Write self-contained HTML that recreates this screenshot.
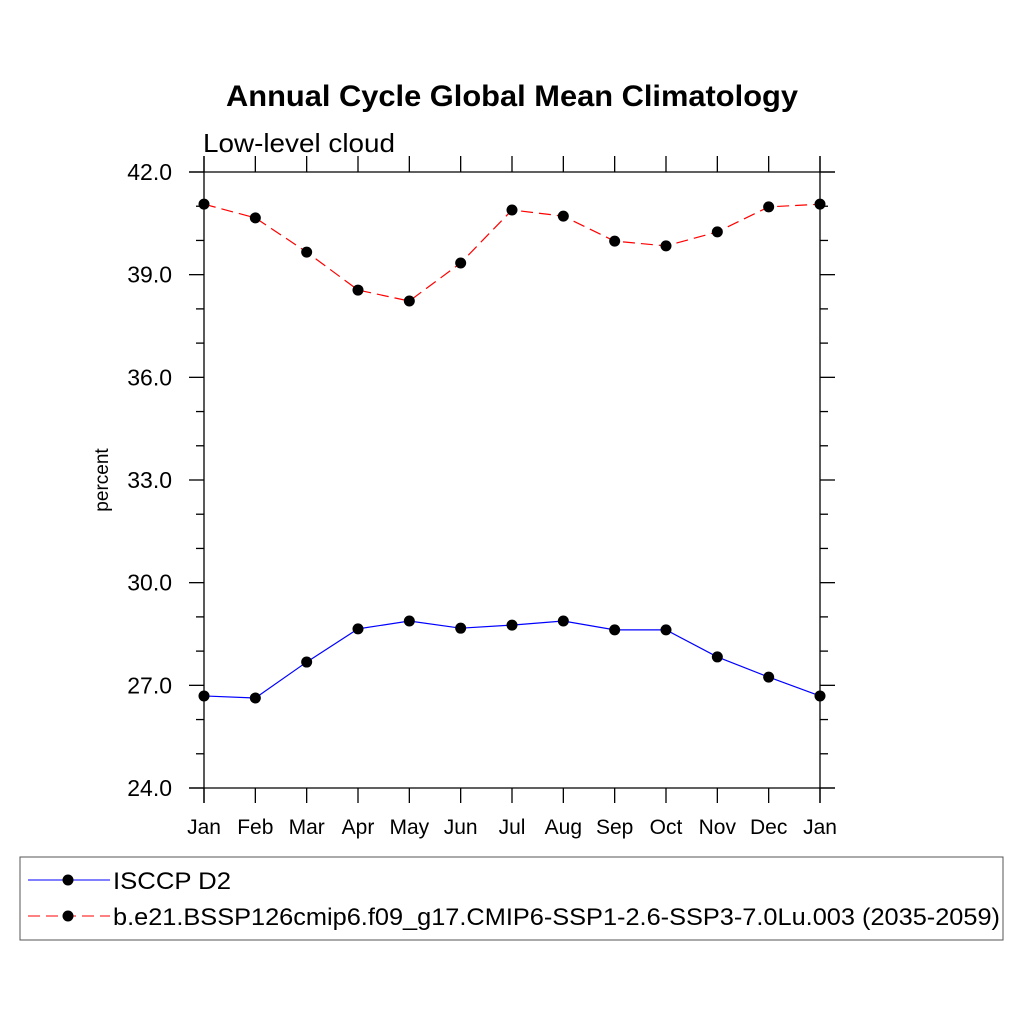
<!DOCTYPE html>
<html><head><meta charset="utf-8"><style>
body{margin:0;background:#fff;width:1024px;height:1024px;overflow:hidden}
svg text{font-family:"Liberation Sans",sans-serif}
</style></head><body>
<svg id="chart" width="1024" height="1024">
<text x="226" y="106" textLength="572" lengthAdjust="spacingAndGlyphs" font-size="30" font-weight="bold">Annual Cycle Global Mean Climatology</text>
<text x="203" y="152" textLength="192" lengthAdjust="spacingAndGlyphs" font-size="26">Low-level cloud</text>
<text transform="translate(108,480) rotate(-90)" text-anchor="middle" font-size="19">percent</text>
<g id="axes"></g>
<g id="series"></g>
<rect x="20" y="857" width="983" height="83" fill="none" stroke="#555" stroke-width="1"/>
<g>
<line x1="28" y1="880" x2="110" y2="880" stroke="#00f" stroke-width="1"/>
<circle cx="68" cy="880" r="5.5" fill="#000"/>
<text x="113" y="889" textLength="118" lengthAdjust="spacingAndGlyphs" font-size="24">ISCCP D2</text></g>
<g>
<line x1="28" y1="916" x2="110" y2="916" stroke="#f00" stroke-width="1" stroke-dasharray="12,6"/>
<circle cx="68" cy="916" r="5.5" fill="#000"/>
<text x="113" y="925" textLength="887" lengthAdjust="spacingAndGlyphs" font-size="24">b.e21.BSSP126cmip6.f09_g17.CMIP6-SSP1-2.6-SSP3-7.0Lu.003 (2035-2059)</text></g>
</svg>
<script>
const months=["Jan","Feb","Mar","Apr","May","Jun","Jul","Aug","Sep","Oct","Nov","Dec","Jan"];
const yTicks=[24,27,30,33,36,39,42];
const isccp=[26.69,26.63,27.68,28.65,28.88,28.67,28.76,28.88,28.62,28.62,27.83,27.24,26.69];
const model=[41.06,40.66,39.66,38.55,38.23,39.34,40.89,40.71,39.98,39.84,40.25,40.98,41.06];
const X0=204,X1=820,Y0=788,Y1=172,ymin=24,ymax=42;
const xs=i=>X0+(X1-X0)*i/(months.length-1);
const ys=v=>Y0-(Y0-Y1)*(v-ymin)/(ymax-ymin);
const NS="http://www.w3.org/2000/svg";
const ax=document.getElementById('axes'),sr=document.getElementById('series');
function mk(t,a,p){const e=document.createElementNS(NS,t);for(const k in a)e.setAttribute(k,a[k]);p.appendChild(e);return e;}
function ln(x1,y1,x2,y2,w){return mk('line',{x1,y1,x2,y2,stroke:'#000','stroke-width':w||1.3},ax);}
ln(X0,156,X0,803);ln(X1,156,X1,803);ln(189,Y1,835,Y1);ln(189,Y0,835,Y0);
months.forEach((m,i)=>{const x=xs(i);ln(x,Y0,x,803);ln(x,Y1,x,156);
const t=mk('text',{x:x,y:834,'text-anchor':'middle','font-size':21},ax);t.textContent=m;

});
for(let v=ymin;v<=ymax;v++){const y=ys(v),maj=(v-ymin)%3===0;ln(X0,y,X0-(maj?15:8),y);ln(X1,y,X1+(maj?15:8),y);}
yTicks.forEach(v=>{const t=mk('text',{x:172,y:ys(v)+8,'text-anchor':'end','font-size':23},ax);t.textContent=v.toFixed(1);

});
function series(d,col,dash,name){const p=mk('polyline',{points:d.map((v,i)=>xs(i)+','+ys(v)).join(' '),fill:'none',stroke:col,'stroke-width':1.2,'stroke-dasharray':dash},sr);


d.forEach((v,i)=>{const c=mk('circle',{cx:xs(i),cy:ys(v),r:5.5,fill:'#000'},sr);

});}
series(isccp,'#00f','none','isccp');
series(model,'#f00','12,6','model');
</script>
</body></html>
